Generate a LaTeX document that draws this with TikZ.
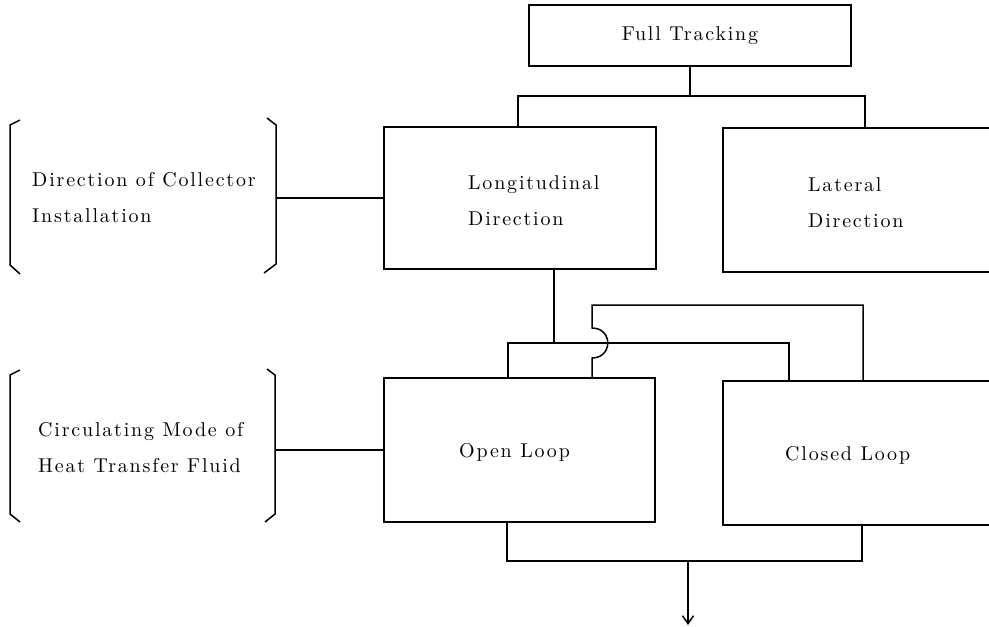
\documentclass[tikz,border=0pt]{standalone}
\usepackage{fontspec}
\setmainfont{lmroman10-regular}[Extension=.otf,LetterSpace=9]
\usetikzlibrary{arrows.meta}
\newcommand\lblfont{\fontsize{20}{36}\selectfont}
\begin{document}
\begin{tikzpicture}[x=1pt,y=-1pt,
  every node/.style={font=\lblfont},
  box/.style={draw,line width=1.5pt,inner sep=0pt},
  conn/.style={line width=1.5pt},
  lbl/.style={align=left,inner sep=0pt,anchor=west}]
\useasboundingbox (0,0) rectangle (989,627);
\clip (0,0) rectangle (989,627);
\fill[white] (0,0) rectangle (989,627);

% boxes
\node[box,minimum width=322pt,minimum height=61pt] (ft) at (690,35.5) {Full Tracking};
\node[box,minimum width=272pt,minimum height=142pt] (lon) at (520,198) {};
\node[box,minimum width=287pt,minimum height=144pt] (lat) at (866.5,200) {};
\node[box,minimum width=271pt,minimum height=144pt] (ol) at (519.5,450) {};
\node[box,minimum width=287pt,minimum height=144pt] (cl) at (866.5,453) {};

% box texts
\node[lbl] (lonT) at (468,201) {Longitudinal\\Direction};
\node[lbl] (latT) at (808,203) {Lateral\\Direction};
\node[lbl] (olT) at (459,452) {Open Loop};
\node[lbl] (clT) at (785,455) {Closed Loop};

% bracket labels
\node[lbl] (l1) at (32,198) {Direction of Collector\\Installation};
\node[lbl] (l2) at (38,448) {Circulating Mode of\\Heat Transfer Fluid};

% brackets
\draw[conn] (20,120) -- (10,125) -- (10,265) -- (20,274);
\draw[conn] (267,118) -- (276,125) -- (276,264) -- (264,273);
\draw[conn] (20,370) -- (10,375) -- (10,514) -- (20,522);
\draw[conn] (267,369) -- (275,375) -- (275,514) -- (265,522);
\coordinate (b1r) at (276,198);
\coordinate (b2r) at (275,450);
\draw[conn] (b1r) -- (lon.west);
\draw[conn] (b2r) -- (ol.west);

% top bus
\coordinate (t1) at (518,96);
\coordinate (t2) at (865,96);
\draw[conn] (ft.south) -- (ft.south |- t1);
\draw[conn] (lon.north -| t1) -- (t1) -- (t2) -- (lat.north -| t2);

% middle bus
\coordinate (m0) at (554,343);
\coordinate (m1) at (508,343);
\coordinate (m2) at (789,343);
\draw[conn] (lon.south -| m0) -- (m0);
\draw[conn] (ol.north -| m1) -- (m1) -- (m2) -- (cl.north -| m2);

% upper loop with hop
\coordinate (h1) at (592,358);
\coordinate (h2) at (592,328);
\coordinate (u1) at (592,305);
\coordinate (u2) at (863,305);
\draw[conn] (ol.north -| h1) -- (h1) .. controls (613,358) and (613,328) .. (h2) -- (u1) -- (u2) -- (cl.north -| u2);

% bottom bus and output arrow
\coordinate (d1) at (507,561);
\coordinate (d2) at (862,561);
\coordinate (a1) at (688,561);
\coordinate (a2) at (688,625);
\draw[conn] (ol.south -| d1) -- (d1) -- (d2) -- (cl.south -| d2);
\draw[conn,-{Straight Barb[length=8pt,width=11pt]}] (a1) -- (a2);
\end{tikzpicture}
\end{document}
